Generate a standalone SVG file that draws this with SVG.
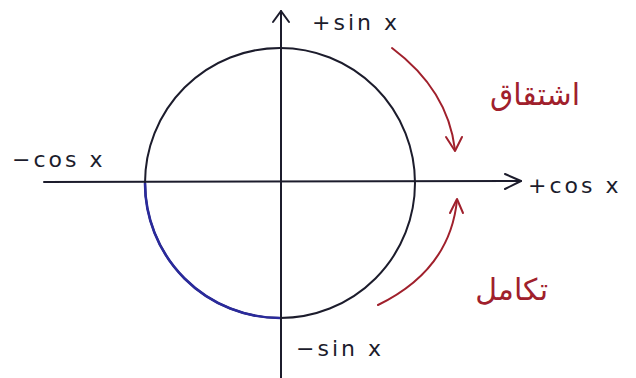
<svg xmlns="http://www.w3.org/2000/svg" width="636" height="378" viewBox="0 0 636 378">
<style>
.ln{fill:none;stroke:#1c1c2c;stroke-width:2;stroke-linecap:round;stroke-linejoin:round}
.rd{fill:none;stroke:#a0202c;stroke-width:2;stroke-linecap:round;stroke-linejoin:round}
.lb{font-family:"DejaVu Sans","Liberation Sans",sans-serif;font-size:22px;fill:#1c1c2c;letter-spacing:3px}
.ar{font-family:"DejaVu Sans","Noto Sans",sans-serif;font-size:30px;fill:#a0202c}
</style>
<rect width="636" height="378" fill="#ffffff"/>
<g id="axes">
<path class="ln" d="M44 182 L521 181"/>
<path class="ln" d="M505 174 L521 181 L505 189"/>
<path class="ln" d="M281 378 L281 11"/>
<path class="ln" d="M273 22 L281 11 L289 22"/>
</g>
<g id="circle">
<circle class="ln" cx="280" cy="183" r="135"/>
<path d="M145 183 A135 135 0 0 0 280 318" fill="none" stroke="#2a2a9c" stroke-width="2.6"/>
</g>
<g id="connectors">
<path class="rd" d="M392 48 Q448 90 455 150"/>
<path class="rd" d="M446 137 L455 151 L462 137"/>
<path class="rd" d="M378 305 Q450 270 457 200"/>
<path class="rd" d="M450 213 L457 199 L463 213"/>
</g>
<g id="labels">
<text class="lb" x="312" y="30">+sin x</text>
<text class="lb" x="12" y="167">−cos x</text>
<text class="lb" x="528" y="193">+cos x</text>
<text class="lb" x="296" y="356">−sin x</text>
<text class="ar" x="580" y="105" text-anchor="end">اشتقاق</text>
<text class="ar" x="548" y="300" text-anchor="end">تكامل</text>
</g>
</svg>
